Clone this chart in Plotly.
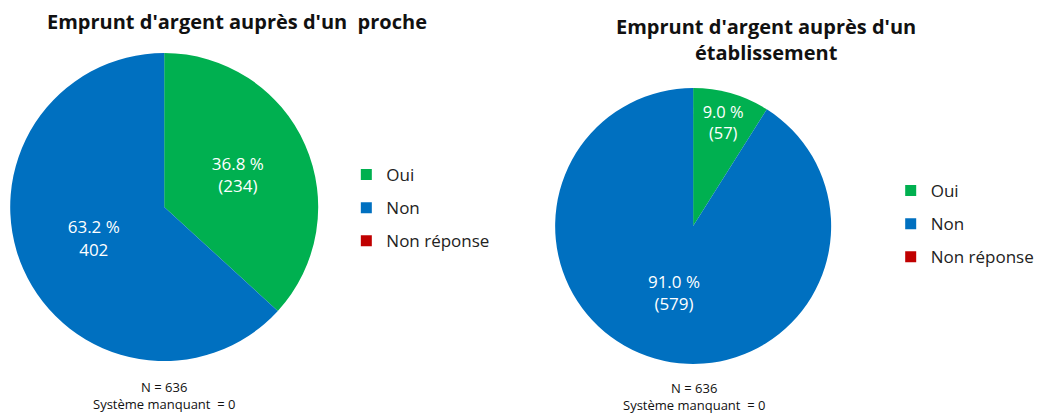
import plotly.graph_objects as go

categories = ["Oui", "Non", "Non réponse"]
colors = ["#00B050", "#0070C0", "#C00000"]

proche_values = [234, 402, 0]
proche_labels = ["36.8 %<br>(234)", "63.2 %<br>402", ""]

etab_values = [57, 579, 0]
etab_labels = ["9.0 %<br>(57)", "91.0 %<br>(579)", ""]

title_left = "Emprunt d'argent auprès d'un  proche"
title_right = "Emprunt d'argent auprès d'un<br>établissement"
footnote = "N = 636<br>Système manquant  = 0"

FONT = "'Open Sans', Lato, sans-serif"
W, H = 1040, 415

fig = go.Figure()
pie_common = dict(
    labels=categories, textinfo="text", textposition="inside",
    insidetextorientation="horizontal", sort=False, direction="clockwise",
    rotation=0, marker=dict(colors=colors, line=dict(color="white", width=0)),
    textfont=dict(color="white", size=17, family=FONT),
    showlegend=False, hoverinfo="label+value+percent",
)
fig.add_trace(go.Pie(values=proche_values, text=proche_labels,
                     domain=dict(x=[10 / W, 320 / W], y=[54 / H, 362 / H]),
                     **pie_common))
fig.add_trace(go.Pie(values=etab_values, text=etab_labels,
                     domain=dict(x=[557 / W, 836 / W], y=[51 / H, 327 / H]),
                     **pie_common))

# legend entries (one per category, for each of the two charts)
for leg in ["legend", "legend2"]:
    for cat, col in zip(categories, colors):
        fig.add_trace(go.Scatter(
            x=[None], y=[None], mode="markers", name=cat,
            marker=dict(symbol="square", size=11, color=col),
            legend=leg, legendgroup=leg + cat, showlegend=True,
            hoverinfo="skip",
        ))

legend_style = dict(font=dict(size=17, family=FONT, color="#222"),
                    bgcolor="rgba(0,0,0,0)", xanchor="left", yanchor="middle",
                    traceorder="grouped", tracegroupgap=8, itemwidth=30,
                    itemclick=False, itemdoubleclick=False)

fig.update_layout(
    width=W, height=H,
    margin=dict(l=0, r=0, t=0, b=0),
    paper_bgcolor="white", plot_bgcolor="white",
    font=dict(family=FONT),
    xaxis=dict(visible=False), yaxis=dict(visible=False),
    legend=dict(x=348 / W, y=1 - 208 / H, **legend_style),
    legend2=dict(x=895 / W, y=1 - 224 / H, **legend_style),
    annotations=[
        dict(text="<b>" + title_left + "</b>", x=238 / W, y=1 - 22 / H,
             xref="paper", yref="paper", showarrow=False,
             xanchor="center", yanchor="middle",
             font=dict(size=20, family=FONT, color="#111")),
        dict(text="<b>" + title_right + "</b>", x=770 / W, y=1 - 40 / H,
             xref="paper", yref="paper", showarrow=False,
             xanchor="center", yanchor="middle",
             font=dict(size=20, family=FONT, color="#111")),
        dict(text=footnote, x=165 / W, y=1 - 395 / H,
             xref="paper", yref="paper", showarrow=False,
             xanchor="center", yanchor="middle",
             font=dict(size=13, family=FONT, color="#111")),
        dict(text=footnote, x=697 / W, y=1 - 396 / H,
             xref="paper", yref="paper", showarrow=False,
             xanchor="center", yanchor="middle",
             font=dict(size=13, family=FONT, color="#111")),
    ],
)

fig.write_html("out.html", config={"displayModeBar": False},
               post_script="document.body.style.margin='0';")
